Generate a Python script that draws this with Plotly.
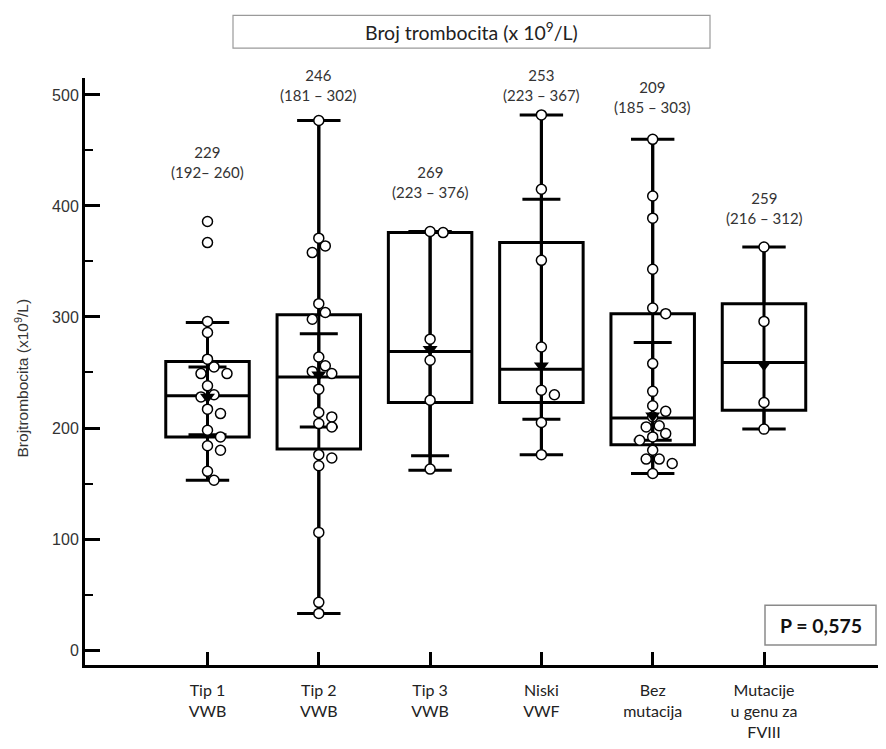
import plotly.graph_objects as go

# ---------------- data ----------------
categories = ["Tip 1<br>VWB", "Tip 2<br>VWB", "Tip 3<br>VWB", "Niski<br>VWF",
              "Bez<br>mutacija", "Mutacije<br>u genu za<br>FVIII"]
q1 = [192, 181, 223, 223, 185, 216]
median = [229, 246, 269, 253, 209, 259]
q3 = [260, 302, 376, 367, 303, 312]
whisker_low = [153, 33, 162, 176, 159, 199]
whisker_high = [295, 477, 377, 482, 460, 363]
mean = [228, 248, 271, 256, 211, 257]
inner_low = [194, 201, 175, 208, 189, None]
inner_high = [255, 285, 376, 406, 277, None]

points_tip1 = [386, 367, 296, 286, 262, 255, 249, 249, 238, 230, 228, 217, 213,
               198, 192, 184, 180, 161, 153]
points_tip2 = [477, 371, 364, 358, 312, 304, 298, 264, 256, 251, 249, 235, 214,
               210, 204, 201, 176, 173, 166, 106, 43, 33]
points_tip3 = [377, 376, 280, 261, 225, 163]
points_niski = [482, 415, 351, 273, 234, 230, 205, 176]
points_bez = [460, 409, 389, 343, 308, 303, 258, 233, 220, 215, 210, 202, 201,
              195, 192, 189, 180, 172, 172, 168, 159]
points_mut = [363, 296, 223, 199]
all_points = [points_tip1, points_tip2, points_tip3, points_niski, points_bez, points_mut]

label_median = ["229", "246", "269", "253", "209", "259"]
label_iqr = ["(192– 260)", "(181 – 302)", "(223 – 376)", "(223 – 367)",
             "(185 – 303)", "(216 – 312)"]
title_text = "Broj trombocita (x 10<sup>9</sup>/L)"
y_title = "Brojtrombocita (x10<sup>9</sup>/L)"
p_text = "<b>P = 0,575</b>"

# ---------------- layout constants ----------------
BODY = 8  # default page margin around the figure
W, H = 886 - 2 * BODY, 749 - 2 * BODY
ML, MR, MT, MB = 77, 0, 70, 73
PW, PH = W - ML - MR, H - MT - MB
PX_X = 111.3
XR = [-122.5 / PX_X, -122.5 / PX_X + PW / PX_X]
PX_Y = 1.116
YR = [-(660 - 645) / PX_Y, (645 - 70) / PX_Y]
label_y = [440, 509, 422, 509, 498, 398]  # annotation positions (data units)


def px2paper(px, py):
    fx, fy = px - BODY, py - BODY
    return (fx - ML) / PW, 1 - (fy - MT) / PH


def swarm(vals, step=6.5, diam=9.5):
    placed, offs = [], []
    for v in vals:
        y = v * PX_Y
        chosen = 0
        for k in [0, 1, -1, 2, -2, 3, -3]:
            x = k * step
            if all((x - a) ** 2 + (y - b) ** 2 >= diam ** 2 for a, b in placed):
                chosen = x
                break
        placed.append((chosen, y))
        offs.append(chosen / PX_X)
    return offs


xs = list(range(len(categories)))
fig = go.Figure()

fig.add_trace(go.Box(
    x=xs, q1=q1, median=median, q3=q3, lowerfence=whisker_low, upperfence=whisker_high,
    width=0.75, whiskerwidth=0.52, boxpoints=False,
    line=dict(color="black", width=3), fillcolor="white", showlegend=False,
    hoverinfo="skip"))

# vertical line through box
lx, ly = [], []
for i in xs:
    lx += [i, i, None]
    ly += [whisker_low[i], whisker_high[i], None]
fig.add_trace(go.Scatter(x=lx, y=ly, mode="lines", line=dict(color="black", width=3),
                         showlegend=False, hoverinfo="skip"))

# inner bars
ix = [i for i in xs if inner_low[i] is not None]
fig.add_trace(go.Scatter(
    x=ix, y=[mean[i] for i in ix], mode="markers", marker=dict(size=1, color="rgba(0,0,0,0)"),
    error_y=dict(type="data", symmetric=False,
                 array=[inner_high[i] - mean[i] for i in ix],
                 arrayminus=[mean[i] - inner_low[i] for i in ix],
                 width=19, thickness=3, color="black"),
    showlegend=False, hoverinfo="skip"))

# data points
px_, py_ = [], []
for i, pts in enumerate(all_points):
    offs = swarm(pts)
    px_ += [i + o for o in offs]
    py_ += pts
fig.add_trace(go.Scatter(x=px_, y=py_, mode="markers",
                         marker=dict(symbol="circle", size=10, color="white",
                                     line=dict(color="black", width=1.5)),
                         showlegend=False, hoverinfo="skip"))

# mean triangles
fig.add_trace(go.Scatter(x=xs, y=mean, mode="markers",
                         marker=dict(symbol="triangle-down", size=13, color="black"),
                         showlegend=False, hoverinfo="skip"))

annotations = []
for i in xs:
    annotations.append(dict(x=i, y=label_y[i], xref="x", yref="y",
                            text=label_median[i] + "<br>" + label_iqr[i], showarrow=False,
                            font=dict(family="Lato", size=15, color="#333333"),
                            align="center"))

tx0, ty0 = px2paper(233, 15)
tx1, ty1 = px2paper(710, 48)
tcx, tcy = px2paper(471, 31.5)
bx0, by0 = px2paper(765, 608)
bx1, by1 = px2paper(876, 648)
bcx, bcy = px2paper(820.5, 628)
ylx, yly = px2paper(22, 380)

shapes = [
    dict(type="rect", xref="paper", yref="paper", x0=tx0, y0=ty1, x1=tx1, y1=ty0,
         line=dict(color="#9a9a9a", width=1.2), fillcolor="white", layer="below"),
    dict(type="rect", xref="paper", yref="paper", x0=bx0, y0=by1, x1=bx1, y1=by0,
         line=dict(color="#8a8a8a", width=1.5), fillcolor="white", layer="below"),
]
annotations += [
    dict(x=tcx, y=tcy, xref="paper", yref="paper", text=title_text, showarrow=False,
         font=dict(family="Lato", size=19.5, color="#222222"), xanchor="center", yanchor="middle"),
    dict(x=bcx, y=bcy, xref="paper", yref="paper", text=p_text, showarrow=False,
         font=dict(family="Lato", size=19.5, color="#111111"), xanchor="center", yanchor="middle"),
    dict(x=ylx, y=yly, xref="paper", yref="paper", text=y_title, showarrow=False, textangle=-90,
         font=dict(family="Liberation Sans", size=15.5, color="#333333"),
         xanchor="center", yanchor="middle"),
]

fig.update_layout(
    width=W, height=H, margin=dict(l=ML, r=MR, t=MT, b=MB),
    plot_bgcolor="white", paper_bgcolor="white", showlegend=False,
    shapes=shapes, annotations=annotations,
    xaxis=dict(range=XR, tickmode="array", tickvals=xs, ticktext=categories,
               showgrid=False, zeroline=False, showline=True, linecolor="black", linewidth=3,
               ticks="inside", ticklen=13, tickwidth=2.5, tickcolor="black",
               ticklabelstandoff=9,
               tickfont=dict(family="Lato", size=16, color="#222222")),
    yaxis=dict(range=YR, tickvals=[0, 100, 200, 300, 400, 500],
               showgrid=False, zeroline=False, showline=True, linecolor="black", linewidth=3,
               ticks="inside", ticklen=15, tickwidth=3, tickcolor="black",
               tickfont=dict(family="Liberation Sans", size=16, color="#333333"),
               minor=dict(tickvals=[50, 150, 250, 350, 450], ticks="inside", ticklen=8,
                          tickwidth=1.5, tickcolor="black")),
)

fig.write_html("out.html")
